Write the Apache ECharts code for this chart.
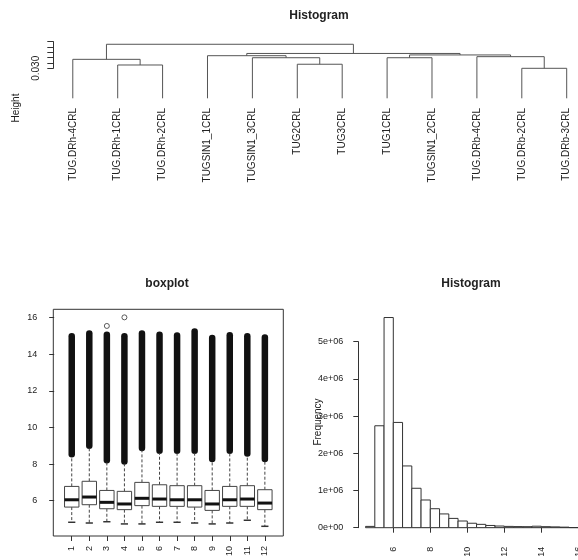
<!DOCTYPE html>
<html>
<head>
<meta charset="utf-8">
<script src="https://cdn.jsdelivr.net/npm/echarts@6/dist/echarts.min.js"></script>
<style>
html,body{margin:0;padding:0;background:#fff;}
#chart{width:578px;height:560px;}
</style>
</head>
<body>
<div id="chart"></div>
<script>
// ---------- Dendrogram data ----------
const leafLabels = ['TUG.DRh-4CRL','TUG.DRh-1CRL','TUG.DRh-2CRL','TUGSIN1_1CRL','TUGSIN1_3CRL','TUG2CRL','TUG3CRL','TUG1CRL','TUGSIN1_2CRL','TUG.DRb-4CRL','TUG.DRb-2CRL','TUG.DRb-3CRL'];
// negative = leaf position, positive = earlier merge (1-based)
const mergeLeft   = [-2, -6, -11, -1, -5, -8, -10, -4, 6, 8, 4];
const mergeRight  = [-3, -7, -12,  1,  2, -9,   3,  5, 7, 9, 10];
const mergeHeight = [0.0331, 0.0338, 0.0300, 0.0384, 0.0399, 0.0399, 0.0409, 0.0418, 0.0425, 0.0439, 0.0525];
const leafHeight = 0.0019;
const heightTicks = [0.030, 0.035, 0.040, 0.045, 0.050, 0.055];
const heightLabels = [0.030];

// ---------- Boxplot data ----------
const boxNames = ['1','2','3','4','5','6','7','8','9','10','11','12'];
const boxQ1     = [5.65, 5.78, 5.56, 5.51, 5.73, 5.69, 5.69, 5.65, 5.47, 5.69, 5.69, 5.51];
const boxMedian = [6.05, 6.20, 5.91, 5.82, 6.13, 6.09, 6.05, 6.05, 5.82, 6.05, 6.09, 5.87];
const boxQ3     = [6.78, 7.06, 6.56, 6.51, 7.00, 6.87, 6.82, 6.82, 6.56, 6.78, 6.82, 6.60];
const boxLow    = [4.82, 4.78, 4.85, 4.73, 4.73, 4.82, 4.82, 4.78, 4.73, 4.78, 4.93, 4.60];
const boxHigh   = [8.42, 8.88, 8.09, 8.02, 8.75, 8.60, 8.60, 8.60, 8.15, 8.60, 8.46, 8.15];
const outlierTop = [15.16, 15.31, 15.25, 15.16, 15.31, 15.25, 15.20, 15.43, 15.07, 15.22, 15.16, 15.10];
const extraOutliers = [[3, 15.55], [4, 16.02]];
const boxTicks = [6, 8, 10, 12, 14, 16];

// ---------- Histogram data ----------
const histBreaks = [4.5,5,5.5,6,6.5,7,7.5,8,8.5,9,9.5,10,10.5,11,11.5,12,12.5,13,13.5,14,14.5,15,15.5,16];
const histCounts = [35000,2740000,5650000,2830000,1660000,1060000,745000,510000,370000,250000,180000,120000,90000,60000,45000,35000,30000,28000,40000,28000,22000,15000,4000];
const histXTicks = [6, 8, 10, 12, 14, 16];

// ---------- build ----------
const FONT = "'Liberation Sans', Arial, Helvetica, sans-serif";
const INK = '#222';
const LINE = '#444';

function nodePos(id){ return id < 0 ? -id : (nodePos(mergeLeft[id-1]) + nodePos(mergeRight[id-1])) / 2; }
function nodeHeight(id){ return id < 0 ? leafHeight : mergeHeight[id-1]; }

const dendroSeries = mergeHeight.map((h, i) => {
  const l = mergeLeft[i], r = mergeRight[i];
  const xl = nodePos(l), xr = nodePos(r);
  return {
    type: 'line', xAxisIndex: 0, yAxisIndex: 0, clip: false, silent: true,
    symbol: 'none', animation: false,
    lineStyle: { color: '#555', width: 1 },
    data: [[xl, nodeHeight(l)], [xl, h], [xr, h], [xr, nodeHeight(r)]]
  };
});

const boxData = boxNames.map((n, i) => [i + 1, boxQ1[i], boxMedian[i], boxQ3[i], boxLow[i], boxHigh[i], outlierTop[i]]);
const histData = histCounts.map((c, i) => [histBreaks[i], histBreaks[i+1], c]);

function sciLabel(v){
  if (v === 0) return '0e+00';
  const e = Math.floor(Math.log10(v));
  const m = Math.round(v / Math.pow(10, e));
  return m + 'e+' + String(e).padStart(2, '0');
}

const option = {
  animation: false,
  textStyle: { fontFamily: FONT, color: INK },
  title: [
    { text: 'Histogram', left: 319, top: 10, textAlign: 'center', padding: 0,
      textStyle: { fontSize: 12, fontWeight: 'bold', color: INK, fontFamily: FONT } },
    { text: 'boxplot', left: 167, top: 278, textAlign: 'center', padding: 0,
      textStyle: { fontSize: 12, fontWeight: 'bold', color: INK, fontFamily: FONT } },
    { text: 'Histogram', left: 471, top: 278, textAlign: 'center', padding: 0,
      textStyle: { fontSize: 12, fontWeight: 'bold', color: INK, fontFamily: FONT } }
  ],
  graphic: [
    { type: 'text', x: 16, y: 108, rotation: Math.PI / 2, silent: true,
      style: { text: 'Height', fontSize: 10, fontFamily: FONT, fill: INK, textAlign: 'center', textVerticalAlign: 'middle' } },
    { type: 'text', x: 318, y: 422, rotation: Math.PI / 2, silent: true,
      style: { text: 'Frequency', fontSize: 10, fontFamily: FONT, fill: INK, textAlign: 'center', textVerticalAlign: 'middle' } }
  ],
  grid: [
    { left: 53.3, top: 41.6, width: 513.4, height: 26.7, outerBoundsMode: 'none' },
    { left: 53.3, top: 309.3, width: 230, height: 226.7, show: true, borderColor: '#333', borderWidth: 1, backgroundColor: 'transparent', outerBoundsMode: 'none' },
    { left: 393.3, top: 341.7, width: 185, height: 186, outerBoundsMode: 'none' }
  ],
  xAxis: [
    { type: 'value', gridIndex: 0, min: 0.566, max: 12,
      axisLine: { show: false }, axisTick: { show: false }, splitLine: { show: false },
      axisLabel: { customValues: leafLabels.map((_, i) => i + 1), formatter: v => leafLabels[Math.round(v) - 1] || '',
        rotate: 90, margin: 39.7, fontSize: 10, color: INK, fontFamily: FONT } },
    { type: 'value', gridIndex: 1, min: -0.05, max: 13.05,
      axisLine: { show: false }, splitLine: { show: false },
      axisTick: { show: true, customValues: boxNames.map((_, i) => i + 1), length: 5, lineStyle: { color: '#333' } },
      axisLabel: { customValues: boxNames.map((_, i) => i + 1), formatter: v => boxNames[Math.round(v) - 1] || '',
        rotate: 90, margin: 10, fontSize: 9, color: INK, fontFamily: FONT } },
    { type: 'value', gridIndex: 2, min: 6, max: 16, offset: 9,
      axisLine: { show: true, lineStyle: { color: '#333' } }, splitLine: { show: false },
      axisTick: { show: true, customValues: histXTicks, length: 5, lineStyle: { color: '#333' } },
      axisLabel: { customValues: histXTicks, rotate: 90, margin: 10, fontSize: 9, color: INK, fontFamily: FONT, showMaxLabel: true, showMinLabel: true } }
  ],
  yAxis: [
    { type: 'value', gridIndex: 0, min: 0.030, max: 0.055,
      axisLine: { show: true, lineStyle: { color: '#333' } }, splitLine: { show: false },
      axisTick: { show: true, customValues: heightTicks, length: 6, lineStyle: { color: '#333' } },
      axisLabel: { customValues: heightLabels, formatter: v => v.toFixed(3), rotate: 90, margin: 12, fontSize: 10, color: INK, fontFamily: FONT } },
    { type: 'value', gridIndex: 1, min: 4.07, max: 16.46,
      axisLine: { show: false }, splitLine: { show: false },
      axisTick: { show: true, customValues: boxTicks, length: 5, lineStyle: { color: '#333' } },
      axisLabel: { customValues: boxTicks, margin: 16, fontSize: 9, color: INK, fontFamily: FONT } },
    { type: 'value', gridIndex: 2, min: 0, max: 5000000, interval: 1000000, offset: 35,
      axisLine: { show: true, lineStyle: { color: '#333' } }, splitLine: { show: false },
      axisTick: { show: true, length: 5, lineStyle: { color: '#333' } },
      axisLabel: { formatter: sciLabel, margin: 15, fontSize: 9, color: INK, fontFamily: FONT } }
  ],
  series: [
    ...dendroSeries,
    {
      type: 'custom', xAxisIndex: 1, yAxisIndex: 1, clip: false, silent: true,
      encode: { x: 0, y: [1, 2, 3, 4, 5, 6] },
      data: boxData,
      renderItem: function (params, api) {
        const x = api.value(0);
        const p1 = api.coord([x, api.value(1)]);
        const cx = p1[0], yq1 = p1[1];
        const yMed = api.coord([x, api.value(2)])[1];
        const yq3 = api.coord([x, api.value(3)])[1];
        const yLo = api.coord([x, api.value(4)])[1];
        const yHi = api.coord([x, api.value(5)])[1];
        const yTop = api.coord([x, api.value(6)])[1];
        const hw = api.size([0.82, 0])[0] / 2;
        const cw = 6.5;
        return {
          type: 'group',
          children: [
            { type: 'rect', shape: { x: cx - cw / 2, y: yTop, width: cw, height: yHi - yTop + 1, r: cw / 2 },
              style: { fill: '#111' } },
            { type: 'line', shape: { x1: cx, y1: yq3, x2: cx, y2: yHi },
              style: { stroke: LINE, lineWidth: 1, lineDash: [3, 2] } },
            { type: 'line', shape: { x1: cx, y1: yq1, x2: cx, y2: yLo },
              style: { stroke: LINE, lineWidth: 1, lineDash: [3, 2] } },
            { type: 'line', shape: { x1: cx - hw / 2, y1: yLo, x2: cx + hw / 2, y2: yLo },
              style: { stroke: '#333', lineWidth: 1.5 } },
            { type: 'rect', shape: { x: cx - hw, y: yq3, width: 2 * hw, height: yq1 - yq3 },
              style: { fill: '#fff', stroke: LINE, lineWidth: 1 } },
            { type: 'line', shape: { x1: cx - hw, y1: yMed, x2: cx + hw, y2: yMed },
              style: { stroke: '#111', lineWidth: 3 } }
          ]
        };
      }
    },
    {
      type: 'scatter', xAxisIndex: 1, yAxisIndex: 1, silent: true,
      symbol: 'circle', symbolSize: 5,
      itemStyle: { color: '#fff', borderColor: '#333', borderWidth: 1 },
      data: extraOutliers
    },
    {
      type: 'custom', xAxisIndex: 2, yAxisIndex: 2, clip: false, silent: true,
      encode: { x: [0, 1], y: 2 },
      data: histData,
      renderItem: function (params, api) {
        const a = api.coord([api.value(0), api.value(2)]);
        const b = api.coord([api.value(1), 0]);
        return {
          type: 'rect',
          shape: { x: a[0], y: a[1], width: b[0] - a[0], height: b[1] - a[1] },
          style: { fill: '#fff', stroke: '#333', lineWidth: 1 }
        };
      }
    }
  ]
};

const chart = echarts.init(document.getElementById('chart'), null, { renderer: 'canvas' });
chart.setOption(option);
</script>
</body>
</html>
